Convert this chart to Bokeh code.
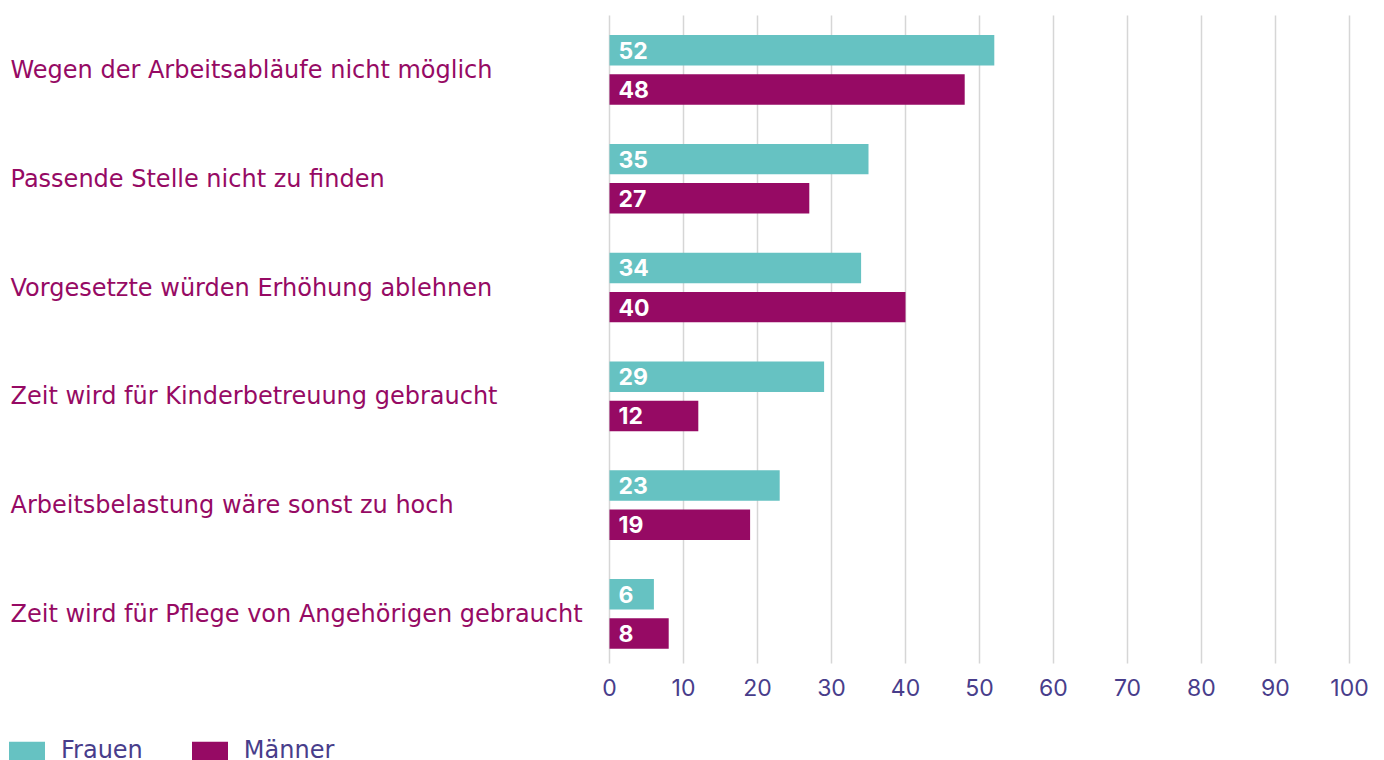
from bokeh.plotting import figure
from bokeh.models import ColumnDataSource, FixedTicker, Legend, LegendItem, Range1d
from bokeh.core.properties import value
from bokeh.embed import file_html
from bokeh.resources import INLINE

categories = [
    "Wegen der Arbeitsabläufe nicht möglich",
    "Passende Stelle nicht zu finden",
    "Vorgesetzte würden Erhöhung ablehnen",
    "Zeit wird für Kinderbetreuung gebraucht",
    "Arbeitsbelastung wäre sonst zu hoch",
    "Zeit wird für Pflege von Angehörigen gebraucht",
]
frauen = [52, 35, 34, 29, 23, 6]
maenner = [48, 27, 40, 12, 19, 8]
x_ticks = [0, 10, 20, 30, 40, 50, 60, 70, 80, 90, 100]

TEAL = "#66c2c2"
MAGENTA = "#960a64"
BLUE = "#483d8b"
LABEL_FONT = "DejaVu Sans"
NUM_FONT = "Inter"

n = len(categories)
ypos = [n - 0.5 - i for i in range(n)]
DODGE = 0.18
H = 0.28

src = ColumnDataSource(dict(
    cat=categories,
    y=ypos,
    yf=[y + DODGE for y in ypos],
    ym=[y - DODGE for y in ypos],
    frauen=frauen,
    maenner=maenner,
    flab=[str(v) for v in frauen],
    mlab=[str(v) for v in maenner],
))

p = figure(
    width=1376, height=760,
    y_range=Range1d(-0.847, n + 0.138),
    x_range=Range1d(-82.3, 103.65),
    output_backend="svg", toolbar_location=None,
    min_border_left=0, min_border_right=0, min_border_top=0, min_border_bottom=0,
)
p.outline_line_color = None
p.yaxis.visible = False
p.ygrid.grid_line_color = None

p.xaxis.fixed_location = 0
p.xaxis.ticker = FixedTicker(ticks=x_ticks)
p.xgrid.ticker = FixedTicker(ticks=x_ticks)
p.xgrid.cross_bounds = (0.04, n)
p.xgrid.grid_line_color = "#d6d6d6"
p.xgrid.grid_line_width = 1.5
p.xaxis.axis_line_color = None
p.xaxis.major_tick_line_color = None
p.xaxis.major_tick_out = 0
p.xaxis.major_tick_in = 0
p.xaxis.minor_tick_line_color = None
p.xaxis.major_label_text_font = NUM_FONT
p.xaxis.major_label_text_font_size = "23px"
p.xaxis.major_label_text_color = BLUE
p.xaxis.major_label_standoff = 11

r1 = p.hbar(y="yf", left=0, right="frauen", height=H, color=TEAL, line_color=None, source=src)
r2 = p.hbar(y="ym", left=0, right="maenner", height=H, color=MAGENTA, line_color=None, source=src)

p.text(x=0, y="yf", text="flab", source=src,
       x_offset=9, text_align="left", text_baseline="middle",
       text_font=value(NUM_FONT), text_font_style="bold", text_font_size="23px", text_color="white")
p.text(x=0, y="ym", text="mlab", source=src,
       x_offset=9, text_align="left", text_baseline="middle",
       text_font=value(NUM_FONT), text_font_style="bold", text_font_size="23px", text_color="white")

p.text(x=-82.3, y="y", text="cat", source=src, x_offset=10, text_align="left", text_baseline="middle",
       text_font=value(LABEL_FONT), text_font_size="24px", text_color=MAGENTA)

legend = Legend(
    items=[LegendItem(label="Frauen", renderers=[r1]), LegendItem(label="Männer", renderers=[r2])],
    orientation="horizontal", location=(4, -4),
    glyph_width=45, glyph_height=23, label_standoff=12, spacing=44,
    padding=0, margin=0, border_line_color=None, background_fill_alpha=0,
    label_text_font=LABEL_FONT, label_text_font_size="24px", label_text_color=BLUE,
)
p.add_layout(legend)

open("out.html", "w").write(file_html(p, INLINE))
